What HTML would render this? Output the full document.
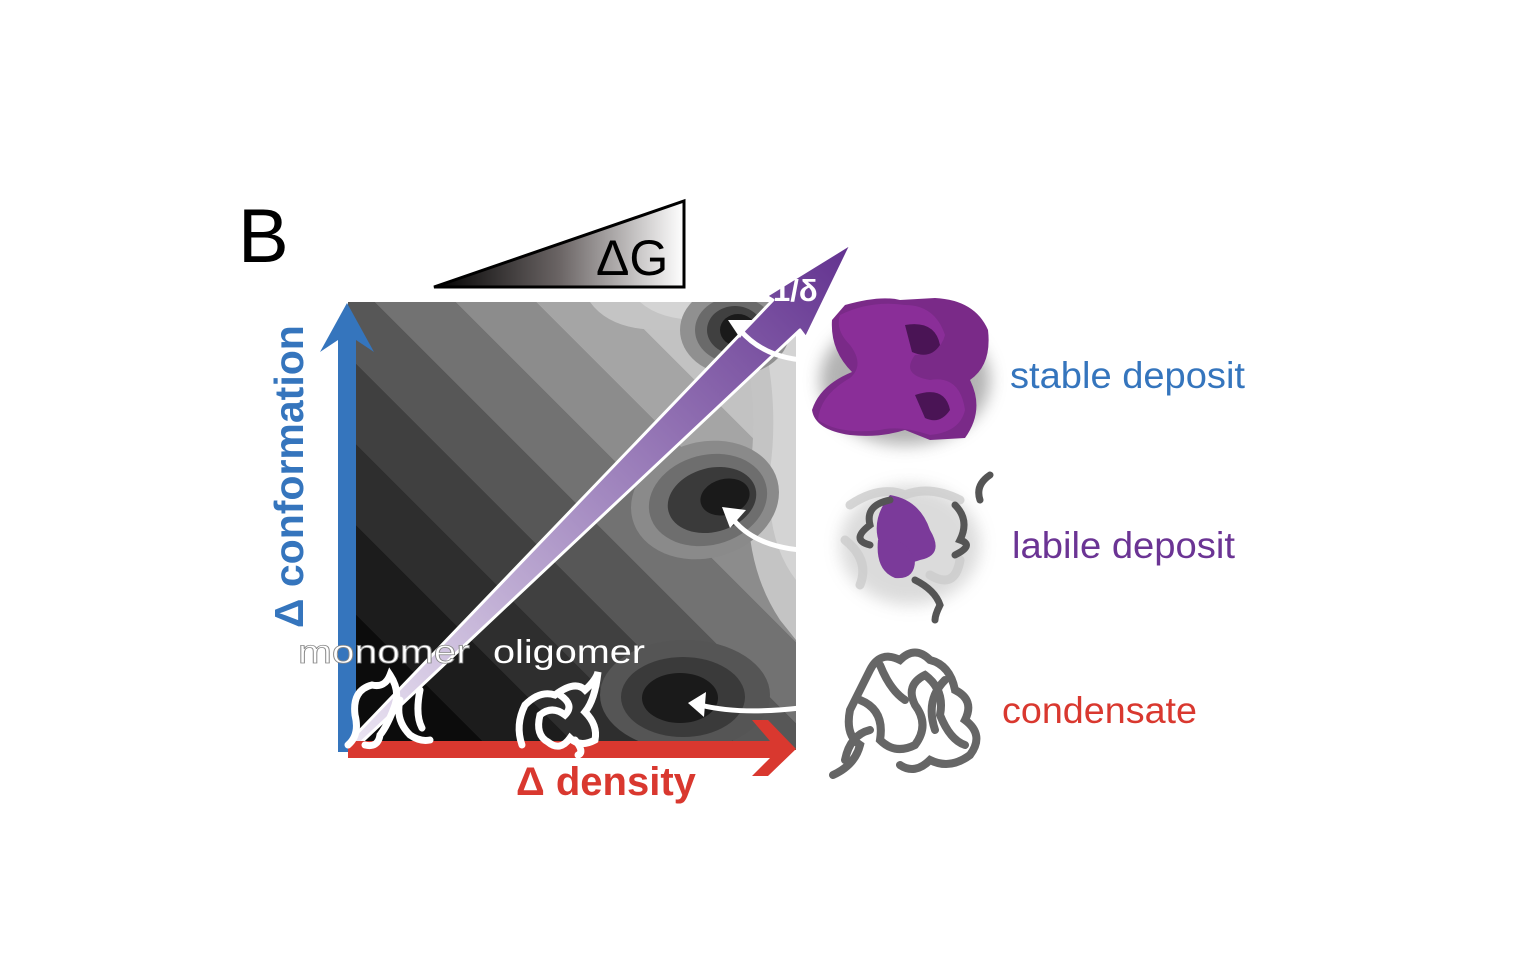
<!DOCTYPE html>
<html><head><meta charset="utf-8"><style>
html,body{margin:0;padding:0;background:#fff;width:1536px;height:978px;overflow:hidden}
svg{display:block}
text{font-family:"Liberation Sans","DejaVu Sans",sans-serif}
</style></head><body>
<svg width="1536" height="978" viewBox="0 0 1536 978" xmlns="http://www.w3.org/2000/svg">
<defs>
<linearGradient id="tri" x1="0" y1="0" x2="1" y2="0">
<stop offset="0" stop-color="#000"/><stop offset="0.5" stop-color="#6a6464"/><stop offset="1" stop-color="#fff"/>
</linearGradient>
<linearGradient id="bands" gradientUnits="userSpaceOnUse" x1="348" y1="750" x2="796" y2="302">
<stop offset="0" stop-color="#0c0c0c"/><stop offset="0.16" stop-color="#0c0c0c"/>
<stop offset="0.16" stop-color="#1c1c1c"/><stop offset="0.26" stop-color="#1c1c1c"/>
<stop offset="0.26" stop-color="#2e2e2e"/><stop offset="0.35" stop-color="#2e2e2e"/>
<stop offset="0.35" stop-color="#404040"/><stop offset="0.44" stop-color="#404040"/>
<stop offset="0.44" stop-color="#575757"/><stop offset="0.53" stop-color="#575757"/>
<stop offset="0.53" stop-color="#727272"/><stop offset="0.62" stop-color="#727272"/>
<stop offset="0.62" stop-color="#8c8c8c"/><stop offset="0.71" stop-color="#8c8c8c"/>
<stop offset="0.71" stop-color="#a5a5a5"/><stop offset="0.80" stop-color="#a5a5a5"/>
<stop offset="0.80" stop-color="#c2c2c2"/><stop offset="0.9" stop-color="#c2c2c2"/>
<stop offset="0.9" stop-color="#e2e2e2"/><stop offset="1" stop-color="#e2e2e2"/>
</linearGradient>
<linearGradient id="purp" gradientUnits="userSpaceOnUse" x1="345" y1="745" x2="852" y2="243">
<stop offset="0" stop-color="#ece6f3"/><stop offset="0.5" stop-color="#a389c0"/><stop offset="1" stop-color="#62318f"/>
</linearGradient>
<clipPath id="sq"><rect x="348" y="302" width="448" height="448"/></clipPath>
<filter id="blur" x="-30%" y="-30%" width="160%" height="160%"><feGaussianBlur stdDeviation="8"/></filter>
</defs>

<text x="238" y="262" font-size="76" fill="#000">B</text>
<polygon points="434,287 684,201 684,287" fill="url(#tri)" stroke="#000" stroke-width="3"/>
<text x="596" y="275" font-size="50" fill="#000">ΔG</text>

<g clip-path="url(#sq)">
<rect x="348" y="302" width="448" height="448" fill="url(#bands)"/>
<path d="M796,302 L590,302 Q610,330 660,330 L740,330 Q760,400 750,470 Q740,560 780,620 L796,640 Z" fill="#c4c4c4"/>
<path d="M796,302 L640,302 Q660,320 700,320 L760,322 Q780,400 770,470 Q765,540 796,580 Z" fill="#d8d8d8" opacity="0.8"/>
<ellipse cx="735" cy="330" rx="55" ry="45" fill="#909090"/>
<ellipse cx="735" cy="330" rx="40" ry="33" fill="#6a6a6a"/>
<ellipse cx="735" cy="330" rx="28" ry="24" fill="#404040"/>
<ellipse cx="738" cy="330" rx="18" ry="16" fill="#1a1a1a"/>
<ellipse cx="705" cy="500" rx="75" ry="58" fill="#8a8a8a" transform="rotate(-15 705 500)"/>
<ellipse cx="708" cy="500" rx="60" ry="45" fill="#6e6e6e" transform="rotate(-15 708 500)"/>
<ellipse cx="712" cy="500" rx="45" ry="32" fill="#3a3a3a" transform="rotate(-15 712 500)"/>
<ellipse cx="725" cy="497" rx="25" ry="18" fill="#1a1a1a" transform="rotate(-15 725 497)"/>
<ellipse cx="685" cy="695" rx="85" ry="55" fill="#555"/>
<ellipse cx="683" cy="697" rx="62" ry="40" fill="#3a3a3a"/>
<ellipse cx="680" cy="698" rx="38" ry="25" fill="#1a1a1a"/>
</g>

<polygon points="343,748 773,300 766,296 852,243 806,338 800,330 351,752" fill="url(#purp)" stroke="#fff" stroke-width="3" stroke-linejoin="round"/>
<text x="773" y="301" font-size="31" font-weight="bold" fill="#fff">1/δ</text>

<rect x="338" y="330" width="18" height="422" fill="#3575bd"/>
<polygon points="320,352 347,303 374,352 356,340 338,340" fill="#3575bd"/>
<rect x="348" y="741" width="425" height="17" fill="#d9382f"/>
<polygon points="768,720 796,749 768,776 752,776 770,758 770,741 752,720" fill="#d9382f"/>

<text transform="translate(303,628) rotate(-90)" font-size="41" font-weight="bold" fill="#3575bd">Δ conformation</text>
<text x="516" y="795" font-size="40" font-weight="bold" fill="#d9382f">Δ density</text>

<text x="298" y="663" font-size="33" fill="#fff" stroke="#888" stroke-width="0.8" textLength="172" lengthAdjust="spacingAndGlyphs">monomer</text>
<text x="493" y="663" font-size="33" fill="#fff" textLength="152" lengthAdjust="spacingAndGlyphs">oligomer</text>

<path d="M348,745 Q360,735 355,715 Q352,690 372,685 Q385,688 390,675 Q400,690 395,705 Q388,725 380,735 Q378,748 365,745 M400,700 Q395,720 410,735 Q420,742 430,740 M420,690 Q415,715 422,728" fill="none" stroke="#fff" stroke-width="7" stroke-linecap="round"/>
<path d="M522,745 Q515,725 525,705 Q540,690 555,695 Q575,680 585,690 Q596,680 598,672 Q595,700 585,712 Q598,725 595,740 Q580,748 570,738 Q560,752 548,742 Q535,735 540,715 Q552,705 565,715 Q575,705 560,695 M575,740 Q585,752 578,755" fill="none" stroke="#fff" stroke-width="7" stroke-linecap="round"/>

<path d="M830,360 Q770,365 740,330" fill="none" stroke="#fff" stroke-width="5"/>
<polygon points="728,320 752,320 740,338" fill="#fff"/>
<path d="M800,550 Q750,545 730,515" fill="none" stroke="#fff" stroke-width="5"/>
<polygon points="722,507 746,510 730,528" fill="#fff"/>
<path d="M800,708 Q740,715 700,705" fill="none" stroke="#fff" stroke-width="5"/>
<polygon points="688,703 706,692 704,717" fill="#fff"/>

<ellipse cx="905" cy="380" rx="85" ry="65" fill="#666" opacity="0.5" filter="url(#blur)"/>
<g stroke-linejoin="round">
<path d="M845,305 Q880,295 900,300 L935,298 Q975,300 988,330 Q992,365 970,380 Q985,410 965,438 L930,440 L905,430 Q880,438 850,435 Q815,430 812,410 Q820,385 852,372 Q830,350 832,320 Z" fill="#7a2a88"/>
<path d="M840,315 Q870,300 905,305 Q935,305 945,335 Q940,355 915,355 Q900,375 930,380 Q960,375 965,410 Q960,432 930,435 Q900,425 880,430 Q840,435 818,420 Q820,395 850,378 Q865,365 850,345 Q835,330 840,315 Z" fill="#8a2e98"/>
<path d="M905,325 Q935,320 940,345 Q930,360 912,352 Z M915,395 Q945,385 950,410 Q940,425 925,418 Z" fill="#4a1455"/>
</g>

<ellipse cx="910" cy="545" rx="70" ry="60" fill="#999" opacity="0.35" filter="url(#blur)"/>
<path d="M850,505 Q880,485 905,495 Q930,485 960,500 M845,540 Q870,560 860,585 M930,575 Q955,590 960,560" fill="none" stroke="#ccc" stroke-width="9" stroke-linecap="round" opacity="0.8"/>
<path d="M890,495 Q920,500 930,530 Q945,555 920,560 Q895,570 880,545 Q870,520 890,495 Z" fill="#7b3a9a"/>
<path d="M878,540 Q905,535 915,560 Q915,580 895,578 Q875,570 878,540 Z" fill="#7b3a9a"/>
<path d="M890,500 Q865,505 870,525 Q850,540 870,545 M955,505 Q970,520 960,540 Q975,545 955,555 M990,475 Q975,485 980,500 M915,580 Q935,590 940,605 Q935,615 935,620" fill="none" stroke="#555" stroke-width="7" stroke-linecap="round"/>

<g fill="none" stroke="#666" stroke-width="8" stroke-linecap="round">
<path d="M833,775 Q855,765 860,745 Q845,735 850,710 Q860,690 870,670 Q880,650 900,660 Q915,645 930,660 Q950,665 955,690 Q975,700 965,720 Q985,735 970,755 Q950,770 930,760 Q915,775 900,765"/>
<path d="M860,700 Q885,710 880,740 Q895,755 915,745 Q930,725 915,705 Q905,685 925,675 Q945,690 940,715 Q950,740 965,745"/>
<path d="M880,665 Q890,690 905,700 M945,680 Q925,700 935,730 M870,730 Q850,735 845,760"/>
</g>

<text x="1010" y="388" font-size="37" fill="#3575bd" textLength="235" lengthAdjust="spacingAndGlyphs">stable deposit</text>
<text x="1012" y="558" font-size="37" fill="#6b3494" textLength="223" lengthAdjust="spacingAndGlyphs">labile deposit</text>
<text x="1002" y="723" font-size="37" fill="#d9382f" textLength="195" lengthAdjust="spacingAndGlyphs">condensate</text>
</svg>
</body></html>
